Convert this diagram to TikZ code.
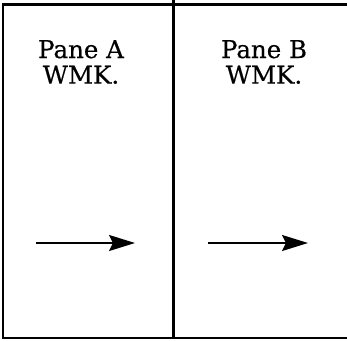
\documentclass[tikz,border=0pt]{standalone}
\usepackage{fontspec}
\setmainfont{DejaVu Serif}
\usetikzlibrary{arrows.meta}
\begin{document}
\begin{tikzpicture}[x=1pt,y=-1pt,
  frame/.style={line width=2.2pt,black},
  panetext/.style={font=\fontsize{24.5}{25.5}\selectfont\addfontfeature{FakeBold=0.4},align=center,inner sep=0pt},
  arr/.style={line width=2pt,-{Stealth[length=26pt,width=16pt,inset=4pt]}}]
\useasboundingbox (0,0) rectangle (347,340);
% frame
\draw[frame] (347,4.5) -- (3,4.5) -- (3,338) -- (347,338);
\draw[frame] (173.5,0) -- (173.5,338);
% labels
\node[panetext,anchor=north] (la) at (81,40) {Pane A\\WMK.};
\node[panetext,anchor=north] (lb) at (264,40) {Pane B\\WMK.};
% arrows
\coordinate (a1) at (36,243);
\coordinate (a2) at (135,243);
\coordinate (b1) at (208,243);
\coordinate (b2) at (308,243);
\draw[arr] (a1) -- (a2);
\draw[arr] (b1) -- (b2);
\end{tikzpicture}
\end{document}
